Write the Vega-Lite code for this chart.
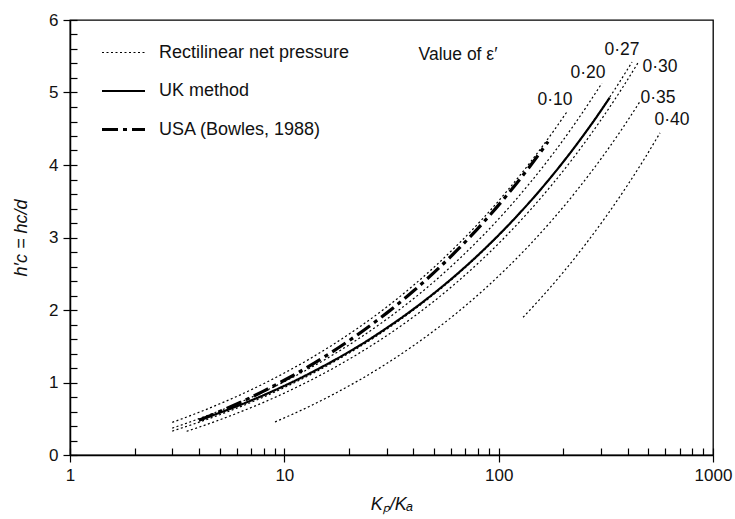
{
  "$schema": "https://vega.github.io/schema/vega-lite/v6.json",
  "width": 643,
  "height": 435,
  "autosize": {"type": "none"},
  "padding": {"left": 70, "top": 20, "right": 22, "bottom": 64},
  "background": "white",
  "config": {
    "font": "Liberation Sans",
    "view": {"stroke": "#000", "strokeWidth": 1.3},
    "axis": {"grid": false, "domainColor": "#000", "tickColor": "#000", "labelColor": "#111", "titleColor": "#111", "labelFont": "Liberation Sans", "titleFont": "Liberation Sans"}
  },
  "layer": [
    {
      "data": {"values": [
        {"curve": "0.10", "method": "Rectilinear net pressure", "K": 3, "h": 0.450},
        {"curve": "0.10", "method": "Rectilinear net pressure", "K": 4, "h": 0.589},
        {"curve": "0.10", "method": "Rectilinear net pressure", "K": 5, "h": 0.706},
        {"curve": "0.10", "method": "Rectilinear net pressure", "K": 6, "h": 0.808},
        {"curve": "0.10", "method": "Rectilinear net pressure", "K": 8, "h": 0.983},
        {"curve": "0.10", "method": "Rectilinear net pressure", "K": 10, "h": 1.131},
        {"curve": "0.10", "method": "Rectilinear net pressure", "K": 13, "h": 1.319},
        {"curve": "0.10", "method": "Rectilinear net pressure", "K": 17, "h": 1.529},
        {"curve": "0.10", "method": "Rectilinear net pressure", "K": 22, "h": 1.749},
        {"curve": "0.10", "method": "Rectilinear net pressure", "K": 30, "h": 2.040},
        {"curve": "0.10", "method": "Rectilinear net pressure", "K": 40, "h": 2.339},
        {"curve": "0.10", "method": "Rectilinear net pressure", "K": 50, "h": 2.591},
        {"curve": "0.10", "method": "Rectilinear net pressure", "K": 65, "h": 2.913},
        {"curve": "0.10", "method": "Rectilinear net pressure", "K": 85, "h": 3.272},
        {"curve": "0.10", "method": "Rectilinear net pressure", "K": 110, "h": 3.649},
        {"curve": "0.10", "method": "Rectilinear net pressure", "K": 140, "h": 4.032},
        {"curve": "0.10", "method": "Rectilinear net pressure", "K": 180, "h": 4.465},
        {"curve": "0.10", "method": "Rectilinear net pressure", "K": 208, "h": 4.731},

        {"curve": "0.20", "method": "Rectilinear net pressure", "K": 3, "h": 0.370},
        {"curve": "0.20", "method": "Rectilinear net pressure", "K": 4, "h": 0.501},
        {"curve": "0.20", "method": "Rectilinear net pressure", "K": 5, "h": 0.611},
        {"curve": "0.20", "method": "Rectilinear net pressure", "K": 6, "h": 0.708},
        {"curve": "0.20", "method": "Rectilinear net pressure", "K": 8, "h": 0.873},
        {"curve": "0.20", "method": "Rectilinear net pressure", "K": 10, "h": 1.012},
        {"curve": "0.20", "method": "Rectilinear net pressure", "K": 13, "h": 1.190},
        {"curve": "0.20", "method": "Rectilinear net pressure", "K": 17, "h": 1.388},
        {"curve": "0.20", "method": "Rectilinear net pressure", "K": 22, "h": 1.596},
        {"curve": "0.20", "method": "Rectilinear net pressure", "K": 30, "h": 1.872},
        {"curve": "0.20", "method": "Rectilinear net pressure", "K": 40, "h": 2.154},
        {"curve": "0.20", "method": "Rectilinear net pressure", "K": 50, "h": 2.392},
        {"curve": "0.20", "method": "Rectilinear net pressure", "K": 65, "h": 2.696},
        {"curve": "0.20", "method": "Rectilinear net pressure", "K": 85, "h": 3.035},
        {"curve": "0.20", "method": "Rectilinear net pressure", "K": 110, "h": 3.391},
        {"curve": "0.20", "method": "Rectilinear net pressure", "K": 140, "h": 3.753},
        {"curve": "0.20", "method": "Rectilinear net pressure", "K": 180, "h": 4.162},
        {"curve": "0.20", "method": "Rectilinear net pressure", "K": 230, "h": 4.596},
        {"curve": "0.20", "method": "Rectilinear net pressure", "K": 303, "h": 5.127},

        {"curve": "0.27", "method": "Rectilinear net pressure", "K": 3, "h": 0.330},
        {"curve": "0.27", "method": "Rectilinear net pressure", "K": 4, "h": 0.453},
        {"curve": "0.27", "method": "Rectilinear net pressure", "K": 5, "h": 0.556},
        {"curve": "0.27", "method": "Rectilinear net pressure", "K": 6, "h": 0.646},
        {"curve": "0.27", "method": "Rectilinear net pressure", "K": 8, "h": 0.800},
        {"curve": "0.27", "method": "Rectilinear net pressure", "K": 10, "h": 0.930},
        {"curve": "0.27", "method": "Rectilinear net pressure", "K": 13, "h": 1.096},
        {"curve": "0.27", "method": "Rectilinear net pressure", "K": 17, "h": 1.282},
        {"curve": "0.27", "method": "Rectilinear net pressure", "K": 22, "h": 1.476},
        {"curve": "0.27", "method": "Rectilinear net pressure", "K": 30, "h": 1.733},
        {"curve": "0.27", "method": "Rectilinear net pressure", "K": 40, "h": 1.997},
        {"curve": "0.27", "method": "Rectilinear net pressure", "K": 50, "h": 2.219},
        {"curve": "0.27", "method": "Rectilinear net pressure", "K": 65, "h": 2.503},
        {"curve": "0.27", "method": "Rectilinear net pressure", "K": 85, "h": 2.820},
        {"curve": "0.27", "method": "Rectilinear net pressure", "K": 110, "h": 3.152},
        {"curve": "0.27", "method": "Rectilinear net pressure", "K": 140, "h": 3.490},
        {"curve": "0.27", "method": "Rectilinear net pressure", "K": 180, "h": 3.873},
        {"curve": "0.27", "method": "Rectilinear net pressure", "K": 230, "h": 4.278},
        {"curve": "0.27", "method": "Rectilinear net pressure", "K": 300, "h": 4.756},
        {"curve": "0.27", "method": "Rectilinear net pressure", "K": 360, "h": 5.109},
        {"curve": "0.27", "method": "Rectilinear net pressure", "K": 419, "h": 5.420},

        {"curve": "0.30", "method": "Rectilinear net pressure", "K": 3.5, "h": 0.327},
        {"curve": "0.30", "method": "Rectilinear net pressure", "K": 4, "h": 0.384},
        {"curve": "0.30", "method": "Rectilinear net pressure", "K": 5, "h": 0.486},
        {"curve": "0.30", "method": "Rectilinear net pressure", "K": 6, "h": 0.575},
        {"curve": "0.30", "method": "Rectilinear net pressure", "K": 8, "h": 0.726},
        {"curve": "0.30", "method": "Rectilinear net pressure", "K": 10, "h": 0.854},
        {"curve": "0.30", "method": "Rectilinear net pressure", "K": 13, "h": 1.018},
        {"curve": "0.30", "method": "Rectilinear net pressure", "K": 17, "h": 1.200},
        {"curve": "0.30", "method": "Rectilinear net pressure", "K": 22, "h": 1.392},
        {"curve": "0.30", "method": "Rectilinear net pressure", "K": 30, "h": 1.645},
        {"curve": "0.30", "method": "Rectilinear net pressure", "K": 40, "h": 1.904},
        {"curve": "0.30", "method": "Rectilinear net pressure", "K": 50, "h": 2.123},
        {"curve": "0.30", "method": "Rectilinear net pressure", "K": 65, "h": 2.403},
        {"curve": "0.30", "method": "Rectilinear net pressure", "K": 85, "h": 2.715},
        {"curve": "0.30", "method": "Rectilinear net pressure", "K": 110, "h": 3.042},
        {"curve": "0.30", "method": "Rectilinear net pressure", "K": 140, "h": 3.375},
        {"curve": "0.30", "method": "Rectilinear net pressure", "K": 180, "h": 3.751},
        {"curve": "0.30", "method": "Rectilinear net pressure", "K": 230, "h": 4.150},
        {"curve": "0.30", "method": "Rectilinear net pressure", "K": 300, "h": 4.621},
        {"curve": "0.30", "method": "Rectilinear net pressure", "K": 380, "h": 5.076},
        {"curve": "0.30", "method": "Rectilinear net pressure", "K": 447, "h": 5.410},

        {"curve": "0.35", "method": "Rectilinear net pressure", "K": 9.05, "h": 0.456},
        {"curve": "0.35", "method": "Rectilinear net pressure", "K": 10, "h": 0.512},
        {"curve": "0.35", "method": "Rectilinear net pressure", "K": 13, "h": 0.666},
        {"curve": "0.35", "method": "Rectilinear net pressure", "K": 17, "h": 0.840},
        {"curve": "0.35", "method": "Rectilinear net pressure", "K": 22, "h": 1.021},
        {"curve": "0.35", "method": "Rectilinear net pressure", "K": 30, "h": 1.261},
        {"curve": "0.35", "method": "Rectilinear net pressure", "K": 40, "h": 1.508},
        {"curve": "0.35", "method": "Rectilinear net pressure", "K": 50, "h": 1.715},
        {"curve": "0.35", "method": "Rectilinear net pressure", "K": 65, "h": 1.980},
        {"curve": "0.35", "method": "Rectilinear net pressure", "K": 85, "h": 2.276},
        {"curve": "0.35", "method": "Rectilinear net pressure", "K": 110, "h": 2.587},
        {"curve": "0.35", "method": "Rectilinear net pressure", "K": 140, "h": 2.903},
        {"curve": "0.35", "method": "Rectilinear net pressure", "K": 180, "h": 3.260},
        {"curve": "0.35", "method": "Rectilinear net pressure", "K": 230, "h": 3.638},
        {"curve": "0.35", "method": "Rectilinear net pressure", "K": 300, "h": 4.084},
        {"curve": "0.35", "method": "Rectilinear net pressure", "K": 380, "h": 4.516},
        {"curve": "0.35", "method": "Rectilinear net pressure", "K": 456, "h": 4.874},

        {"curve": "0.40", "method": "Rectilinear net pressure", "K": 130, "h": 1.900},
        {"curve": "0.40", "method": "Rectilinear net pressure", "K": 160, "h": 2.188},
        {"curve": "0.40", "method": "Rectilinear net pressure", "K": 200, "h": 2.520},
        {"curve": "0.40", "method": "Rectilinear net pressure", "K": 250, "h": 2.879},
        {"curve": "0.40", "method": "Rectilinear net pressure", "K": 320, "h": 3.307},
        {"curve": "0.40", "method": "Rectilinear net pressure", "K": 400, "h": 3.726},
        {"curve": "0.40", "method": "Rectilinear net pressure", "K": 480, "h": 4.092},
        {"curve": "0.40", "method": "Rectilinear net pressure", "K": 566, "h": 4.443},

        {"curve": "UK", "method": "UK method", "K": 4, "h": 0.480},
        {"curve": "UK", "method": "UK method", "K": 5, "h": 0.583},
        {"curve": "UK", "method": "UK method", "K": 6, "h": 0.672},
        {"curve": "UK", "method": "UK method", "K": 8, "h": 0.825},
        {"curve": "UK", "method": "UK method", "K": 10, "h": 0.954},
        {"curve": "UK", "method": "UK method", "K": 13, "h": 1.119},
        {"curve": "UK", "method": "UK method", "K": 17, "h": 1.303},
        {"curve": "UK", "method": "UK method", "K": 22, "h": 1.495},
        {"curve": "UK", "method": "UK method", "K": 30, "h": 1.751},
        {"curve": "UK", "method": "UK method", "K": 40, "h": 2.012},
        {"curve": "UK", "method": "UK method", "K": 50, "h": 2.233},
        {"curve": "UK", "method": "UK method", "K": 65, "h": 2.514},
        {"curve": "UK", "method": "UK method", "K": 85, "h": 2.829},
        {"curve": "UK", "method": "UK method", "K": 110, "h": 3.159},
        {"curve": "UK", "method": "UK method", "K": 140, "h": 3.494},
        {"curve": "UK", "method": "UK method", "K": 180, "h": 3.873},
        {"curve": "UK", "method": "UK method", "K": 230, "h": 4.275},
        {"curve": "UK", "method": "UK method", "K": 280, "h": 4.622},
        {"curve": "UK", "method": "UK method", "K": 330, "h": 4.930},

        {"curve": "USA", "method": "USA (Bowles, 1988)", "K": 4, "h": 0.480},
        {"curve": "USA", "method": "USA (Bowles, 1988)", "K": 5, "h": 0.599},
        {"curve": "USA", "method": "USA (Bowles, 1988)", "K": 6, "h": 0.703},
        {"curve": "USA", "method": "USA (Bowles, 1988)", "K": 8, "h": 0.881},
        {"curve": "USA", "method": "USA (Bowles, 1988)", "K": 10, "h": 1.031},
        {"curve": "USA", "method": "USA (Bowles, 1988)", "K": 13, "h": 1.222},
        {"curve": "USA", "method": "USA (Bowles, 1988)", "K": 17, "h": 1.436},
        {"curve": "USA", "method": "USA (Bowles, 1988)", "K": 22, "h": 1.661},
        {"curve": "USA", "method": "USA (Bowles, 1988)", "K": 30, "h": 1.957},
        {"curve": "USA", "method": "USA (Bowles, 1988)", "K": 40, "h": 2.261},
        {"curve": "USA", "method": "USA (Bowles, 1988)", "K": 50, "h": 2.518},
        {"curve": "USA", "method": "USA (Bowles, 1988)", "K": 65, "h": 2.845},
        {"curve": "USA", "method": "USA (Bowles, 1988)", "K": 85, "h": 3.211},
        {"curve": "USA", "method": "USA (Bowles, 1988)", "K": 110, "h": 3.594},
        {"curve": "USA", "method": "USA (Bowles, 1988)", "K": 140, "h": 3.984},
        {"curve": "USA", "method": "USA (Bowles, 1988)", "K": 170, "h": 4.322}
      ]},
      "mark": {"type": "line", "interpolate": "monotone", "color": "#000"},
      "encoding": {
        "x": {
          "field": "K", "type": "quantitative",
          "scale": {"type": "log", "domain": [1, 1000], "nice": false},
          "axis": {"orient": "bottom", "values": [1, 10, 100, 1000], "format": "d", "tickSize": 7, "tickWidth": 1.2, "domainWidth": 1.5, "labelFontSize": 17, "labelPadding": 5, "labelFlush": false, "title": "Kₚ/Kₐ", "titleFontSize": 18, "titleFontWeight": "normal", "titleFontStyle": "italic", "titlePadding": 12}
        },
        "y": {
          "field": "h", "type": "quantitative",
          "scale": {"domain": [0, 6], "nice": false},
          "axis": {"orient": "left", "values": [0, 1, 2, 3, 4, 5, 6], "tickSize": 7, "tickWidth": 1.2, "domainWidth": 1.5, "labelFontSize": 17, "labelPadding": 5, "labelFlush": false, "title": "h′c = hc/d", "titleFontSize": 18, "titleFontWeight": "normal", "titleFontStyle": "italic", "titlePadding": 18}
        },
        "detail": {"field": "curve"},
        "strokeDash": {
          "field": "method", "type": "ordinal",
          "scale": {"domain": ["Rectilinear net pressure", "UK method", "USA (Bowles, 1988)"], "range": [[2, 2.5], [1, 0], [16, 5, 4, 5]]},
          "legend": {"orient": "none", "legendX": 30, "legendY": 10, "title": null, "symbolType": "stroke", "symbolSize": 1849, "symbolStrokeColor": "#000", "labelFontSize": 18, "labelLimit": 400, "labelColor": "#111", "labelOffset": 12, "rowPadding": 6}
        },
        "strokeWidth": {
          "field": "method", "type": "ordinal",
          "scale": {"domain": ["Rectilinear net pressure", "UK method", "USA (Bowles, 1988)"], "range": [1.2, 3.2, 3.2]},
          "legend": {"orient": "none", "legendX": 30, "legendY": 10, "title": null, "symbolType": "stroke", "symbolSize": 1849, "symbolStrokeColor": "#000", "labelFontSize": 18, "labelLimit": 400, "labelColor": "#111", "labelOffset": 12, "rowPadding": 6}
        }
      }
    },
    {
      "data": {"values": [
        {"K": 64.6, "h": 5.52, "label": "Value of ε′"},
        {"K": 183, "h": 4.90, "label": "0·10"},
        {"K": 261, "h": 5.27, "label": "0·20"},
        {"K": 376, "h": 5.59, "label": "0·27"},
        {"K": 566, "h": 5.35, "label": "0·30"},
        {"K": 554, "h": 4.92, "label": "0·35"},
        {"K": 644, "h": 4.62, "label": "0·40"}
      ]},
      "mark": {"type": "text", "fontSize": 17.5, "color": "#111", "align": "center", "baseline": "middle"},
      "encoding": {
        "x": {
          "field": "K", "type": "quantitative",
          "axis": {"orient": "bottom", "values": [1, 2, 3, 4, 5, 6, 7, 8, 9, 10, 20, 30, 40, 50, 60, 70, 80, 90, 100, 200, 300, 400, 500, 600, 700, 800, 900, 1000], "tickSize": -7, "tickWidth": 1.2, "labels": false, "domain": false, "title": null}
        },
        "y": {
          "field": "h", "type": "quantitative",
          "axis": {"orient": "left", "values": [0, 0.2, 0.4, 0.6, 0.8, 1, 1.2, 1.4, 1.6, 1.8, 2, 2.2, 2.4, 2.6, 2.8, 3, 3.2, 3.4, 3.6, 3.8, 4, 4.2, 4.4, 4.6, 4.8, 5, 5.2, 5.4, 5.6, 5.8, 6], "tickSize": -7, "tickWidth": 1.2, "labels": false, "domain": false, "title": null}
        },
        "text": {"field": "label"}
      }
    }
  ],
  "resolve": {"axis": {"x": "independent", "y": "independent"}}
}
